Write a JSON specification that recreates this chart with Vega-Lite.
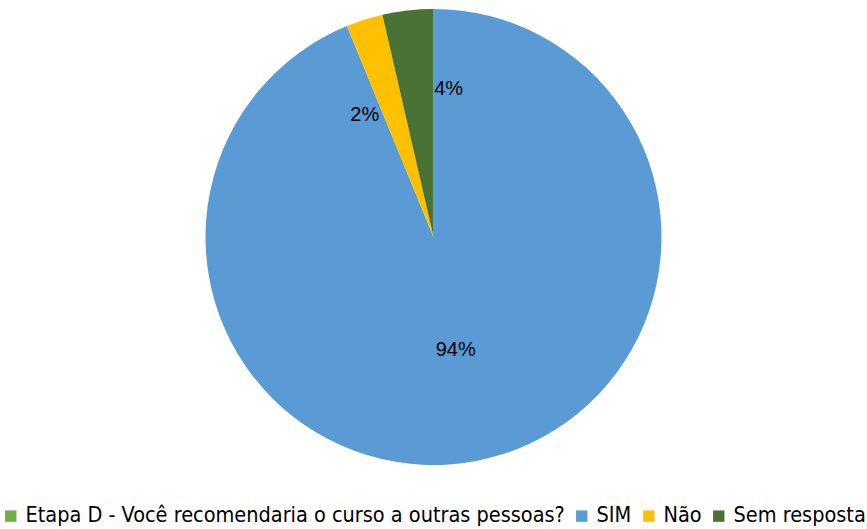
{
  "$schema": "https://vega.github.io/schema/vega-lite/v6.json",
  "width": 867,
  "height": 474,
  "padding": 0,
  "background": "white",
  "data": {
    "values": [
      {"categoria": "SIM", "percentual": 93.8, "rotulo": "94%", "ordem": 1},
      {"categoria": "Não", "percentual": 2.6, "rotulo": "2%", "ordem": 2},
      {"categoria": "Sem resposta", "percentual": 3.6, "rotulo": "4%", "ordem": 3}
    ]
  },
  "encoding": {
    "theta": {"field": "percentual", "type": "quantitative", "stack": true},
    "order": {"field": "ordem", "type": "quantitative"}
  },
  "layer": [
    {
      "mark": {"type": "arc", "outerRadius": 228, "strokeWidth": 0},
      "encoding": {
        "color": {
          "field": "categoria",
          "type": "nominal",
          "scale": {
            "domain": ["Etapa D - Você recomendaria o curso a outras pessoas?", "SIM", "Não", "Sem resposta"],
            "range": ["#70AD47", "#5B9BD5", "#FFC000", "#4A7235"]
          },
          "legend": {
            "title": null,
            "orient": "bottom",
            "direction": "horizontal",
            "offset": 31,
            "symbolType": "square",
            "symbolSize": 130,
            "symbolStrokeWidth": 0,
            "labelFont": "DejaVu Sans Condensed, Liberation Sans",
            "labelFontSize": 21.5,
            "labelColor": "#000000",
            "labelLimit": 800,
            "columnPadding": 6,
            "symbolOffset": 0
          }
        }
      }
    },
    {
      "mark": {"type": "text", "radius": 115, "font": "Liberation Sans", "fontSize": 20, "color": "#000000"},
      "encoding": {"text": {"condition": {"test": "datum.categoria === 'SIM'", "field": "rotulo"}, "value": ""}}
    },
    {
      "mark": {"type": "text", "radius": 141, "dx": -26, "dy": 12, "font": "Liberation Sans", "fontSize": 20, "color": "#000000"},
      "encoding": {"text": {"condition": {"test": "datum.categoria === 'Não'", "field": "rotulo"}, "value": ""}}
    },
    {
      "mark": {"type": "text", "radius": 149, "dx": 32, "font": "Liberation Sans", "fontSize": 20, "color": "#000000"},
      "encoding": {"text": {"condition": {"test": "datum.categoria === 'Sem resposta'", "field": "rotulo"}, "value": ""}}
    }
  ],
  "view": {"stroke": null}
}
